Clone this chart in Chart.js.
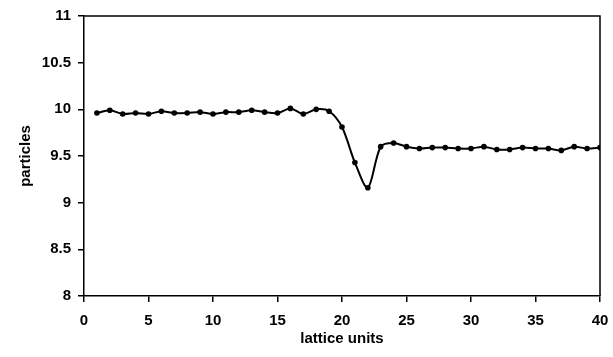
<!DOCTYPE html>
<html>
<head>
<meta charset="utf-8">
<script src="https://cdn.jsdelivr.net/npm/chart.js@4.4.1/dist/chart.umd.min.js"></script>
<style>
  html, body { margin: 0; padding: 0; background: #fff; }
  #box { width: 613px; height: 357px; }
</style>
</head>
<body>
<div id="box"><canvas id="grafico" width="613" height="357"></canvas></div>
<script>
// posicoes na rede (1..40)
var posicoes = [1, 2, 3, 4, 5, 6, 7, 8, 9, 10, 11, 12, 13, 14, 15, 16, 17, 18, 19, 20,
    21, 22, 23, 24, 25, 26, 27, 28, 29, 30, 31, 32, 33, 34, 35, 36, 37, 38, 39, 40];

// numero de particulas
var particulas = [9.96, 9.99, 9.95, 9.96, 9.95, 9.98, 9.96, 9.96, 9.97, 9.95,
    9.97, 9.97, 9.99, 9.97, 9.96, 10.01, 9.95, 10.00, 9.98, 9.81,
    9.43, 9.16, 9.60, 9.64, 9.60, 9.58, 9.59, 9.59, 9.58, 9.58,
    9.60, 9.57, 9.57, 9.59, 9.58, 9.58, 9.56, 9.60, 9.58, 9.59];

var ticksX = [0, 5, 10, 15, 20, 25, 30, 35, 40];
var ticksY = [8, 8.5, 9, 9.5, 10, 10.5, 11];

var fonte = "'Liberation Sans', Arial, sans-serif";

// moldura em volta da area do grafico (estilo excel)
var moldura = {
    id: "moldura",
    afterDraw: function (chart) {
        var a = chart.chartArea;
        var c = chart.ctx;
        c.save();
        c.strokeStyle = "#000";
        c.lineWidth = 1.5;
        c.beginPath();
        c.moveTo(a.left, a.top);
        c.lineTo(a.right, a.top);
        c.lineTo(a.right, a.bottom);
        c.stroke();
        c.restore();
    }
};

var pontos = posicoes.map(function (x, i) { return { x: x, y: particulas[i] }; });

new Chart(document.getElementById("grafico"), {
    type: "line",
    data: {
        datasets: [{
            label: "particles",
            data: pontos,
            borderColor: "#000",
            backgroundColor: "#000",
            borderWidth: 2,
            tension: 0.3,
            pointRadius: 2.8,
            pointBackgroundColor: "#000",
            pointBorderWidth: 0,
            fill: false
        }]
    },
    options: {
        responsive: false,
        animation: false,
        layout: { padding: { top: 11, right: 13, left: 15, bottom: 9 } },
        plugins: {
            legend: { display: false },
            tooltip: { enabled: false }
        },
        scales: {
            x: {
                type: "linear",
                min: 0,
                max: 40,
                afterBuildTicks: function (s) { s.ticks = ticksX.map(function (v) { return { value: v }; }); },
                afterFit: function (s) {
                    s.height = 52;
                    s.paddingLeft = 0;
                    s.paddingRight = 0;
                },
                ticks: { color: "#000", font: { family: fonte, size: 15, weight: "bold" }, padding: 10, maxRotation: 0 },
                grid: { drawOnChartArea: false, drawTicks: true, tickLength: 6, color: "#000", lineWidth: 1.5 },
                border: { display: true, color: "#000", width: 1.5 },
                title: { display: true, text: "lattice units", color: "#000", font: { family: fonte, size: 15, weight: "bold" }, padding: { top: 0, bottom: 0 } }
            },
            y: {
                min: 8,
                max: 11,
                afterBuildTicks: function (s) { s.ticks = ticksY.map(function (v) { return { value: v }; }); },
                afterFit: function (s) { s.width = 69; },
                ticks: {
                    color: "#000",
                    font: { family: fonte, size: 15, weight: "bold" },
                    padding: 7,
                    callback: function (v) { return String(v); }
                },
                grid: { drawOnChartArea: false, drawTicks: true, tickLength: 6, color: "#000", lineWidth: 1.5 },
                border: { display: true, color: "#000", width: 1.5 },
                title: { display: true, text: "particles", color: "#000", font: { family: fonte, size: 15, weight: "bold" }, padding: { top: 2, bottom: 0 } }
            }
        }
    },
    plugins: [moldura]
});
</script>
</body>
</html>
